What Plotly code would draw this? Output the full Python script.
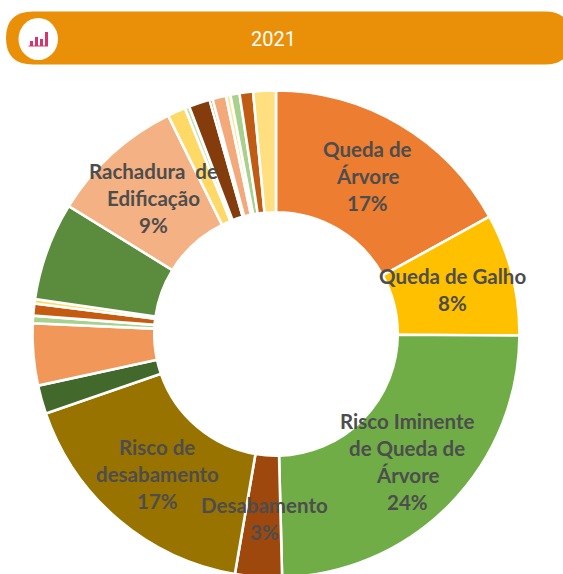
import plotly.graph_objects as go

W, H = 563, 582

title = "2021"
categories = ["Queda de Árvore", "Queda de Galho", "Risco Iminente de Queda de Árvore", "Desabamento",
              "Risco de desabamento", "Cat F", "Cat G", "Cat H", "Cat I", "Cat J", "Cat K",
              "Rachadura de Edificação", "Cat M", "Cat N", "Cat O", "Cat P", "Cat Q", "Cat R", "Cat S", "Cat T", "Cat U"]
values = [170, 81, 245, 31, 170, 19, 41, 5, 8, 3, 65, 89, 12, 3, 14, 2, 9, 3, 6, 9, 15]
colors = ["#ED7D31", "#FFC000", "#70AD47", "#9E480E", "#997300", "#43682B", "#F1975A", "#A9D18E",
          "#C55A11", "#FFD966", "#5B8C3E", "#F4B183", "#FFD966", "#C5E0B4", "#843C0C", "#7F6000",
          "#F4A97A", "#FFE699", "#A9D18E", "#BF5B12", "#FFDF80"]

label_lines = [["Queda de", "Árvore", "17%"],
               ["Queda de Galho", "8%"],
               ["Risco Iminente", "de Queda de", "Árvore", "24%"],
               ["Rachadura  de", "Edificação", "9%"],
               ["Risco de", "desabamento", "17%"],
               ["Desabamento", "3%"]]
label_x = [367, 452, 407, 153, 157, 264]
label_y = [149, 276, 421, 171, 447, 505]
line_step = 27

icon_bar_x = [30, 35, 40, 45]
icon_bar_top = [41, 37, 39, 32]


def px(x):
    return x / W


def py(y):
    return 1 - y / H


fig = go.Figure(go.Pie(
    labels=categories, values=values, hole=0.5, sort=False, direction="clockwise", rotation=0,
    marker=dict(colors=colors, line=dict(color="white", width=2.6)),
    textinfo="none", hoverinfo="label+percent",
    domain=dict(x=[px(32.5), px(519.5)], y=[py(577.5), py(90.5)]),
    showlegend=False,
))

shapes = [
    dict(type="path", xref="paper", yref="paper", layer="above",
         path=f"M {px(33)} {py(11.5)} L {px(545)} {py(11.5)} Q {px(571)} {py(11.5)} {px(571)} {py(38)} "
              f"Q {px(571)} {py(64.5)} {px(545)} {py(64.5)} L {px(33)} {py(64.5)} "
              f"Q {px(6)} {py(64.5)} {px(6)} {py(38)} Q {px(6)} {py(11.5)} {px(33)} {py(11.5)} Z",
         fillcolor="#EA9008", line=dict(width=0)),
    dict(type="circle", xref="paper", yref="paper", layer="above",
         x0=px(18.5), x1=px(58), y0=py(18), y1=py(60), fillcolor="white", line=dict(width=0)),
    dict(type="rect", xref="paper", yref="paper", layer="above",
         x0=px(28.5), x1=px(48), y0=py(45.5), y1=py(46.5), fillcolor="#D6336F", line=dict(width=0)),
]
for bx, top in zip(icon_bar_x, icon_bar_top):
    shapes.append(dict(type="rect", xref="paper", yref="paper", layer="above",
                       x0=px(bx), x1=px(bx + 3), y0=py(46), y1=py(top),
                       fillcolor="#D6336F", line=dict(width=0)))

annotations = [dict(text=title, x=px(273), y=py(39), xref="paper", yref="paper", showarrow=False,
                    xanchor="center", yanchor="middle",
                    font=dict(family="Roboto", size=20, color="white"))]
for lines, lx, ly in zip(label_lines, label_x, label_y):
    for i, line in enumerate(lines):
        annotations.append(dict(text=f"<b>{line.replace('  ', '&nbsp; ')}</b>", x=px(lx), y=py(ly + i * line_step),
                                xref="paper", yref="paper", showarrow=False,
                                xanchor="center", yanchor="middle",
                                font=dict(family="Lato", size=20.5, color="#4D4D4D")))

fig.update_layout(width=W, height=H, margin=dict(l=0, r=0, t=0, b=0),
                  paper_bgcolor="white", plot_bgcolor="white",
                  shapes=shapes, annotations=annotations)

fig.write_html("out.html", config=dict(displayModeBar=False), post_script=(
    "document.body.style.margin='0';document.body.style.overflow='hidden';"
    "document.documentElement.style.overflow='hidden';"))
